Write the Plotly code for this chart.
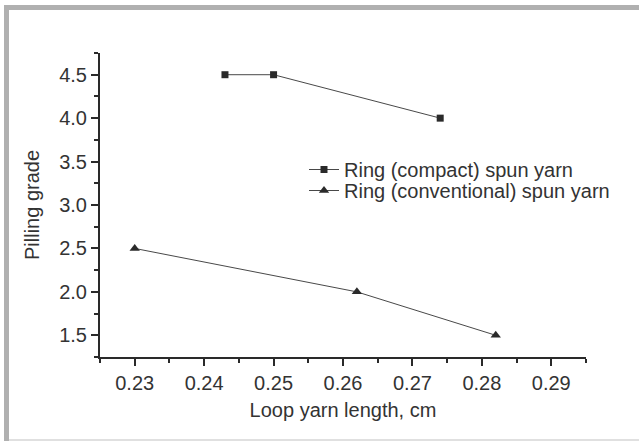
import plotly.graph_objects as go

# Data
compact_x = [0.243, 0.250, 0.274]
compact_y = [4.5, 4.5, 4.0]
conv_x = [0.230, 0.262, 0.282]
conv_y = [2.5, 2.0, 1.5]
x_ticks = [0.23, 0.24, 0.25, 0.26, 0.27, 0.28, 0.29]
y_ticks = [1.5, 2.0, 2.5, 3.0, 3.5, 4.0, 4.5]

W, H = 639, 441
L, R, T, B = 100, 53, 53, 84
PW, PH = W - L - R, H - T - B

def px2x(px):
    return (px - L) / PW

def py2y(py):
    return (H - B - py) / PH

FONT = "Liberation Sans, Arial, sans-serif"
TXT = "#333333"

fig = go.Figure()
fig.add_trace(go.Scatter(
    x=compact_x, y=compact_y, mode="lines+markers",
    name="Ring (compact) spun yarn",
    line=dict(color="#333333", width=0.9),
    marker=dict(symbol="square", size=7, color="#2a2a2a"),
    legend="legend",
))
fig.add_trace(go.Scatter(
    x=conv_x, y=conv_y, mode="lines+markers",
    name="Ring (conventional) spun yarn",
    line=dict(color="#333333", width=0.9),
    marker=dict(symbol="triangle-up", size=9, color="#2a2a2a"),
    legend="legend2",
))

axis_common = dict(
    showline=True, linecolor="#2a2a2a", linewidth=2,
    ticks="outside", ticklen=7, tickwidth=2, tickcolor="#2a2a2a",
    showgrid=False, zeroline=False, mirror=False,
    tickfont=dict(family=FONT, size=20, color=TXT),
)

fig.update_xaxes(
    range=[0.225, 0.295], tickvals=x_ticks,
    ticktext=[f"{v:.2f}" for v in x_ticks],
    minor=dict(dtick=0.005, tick0=0.225, ticks="outside", ticklen=4,
               tickwidth=2, tickcolor="#2a2a2a"),
    title=dict(text="Loop yarn length, cm", standoff=10,
               font=dict(family=FONT, size=20, color=TXT)),
    **axis_common,
)
fig.update_yaxes(
    range=[1.25, 4.75], tickvals=y_ticks,
    ticktext=[f"{v:.1f}" for v in y_ticks],
    minor=dict(dtick=0.25, tick0=1.25, ticks="outside", ticklen=4,
               tickwidth=2, tickcolor="#2a2a2a"),
    title=dict(text="Pilling grade", standoff=14,
               font=dict(family=FONT, size=20, color=TXT)),
    **axis_common,
)

legend_common = dict(
    xanchor="left", yanchor="middle", bgcolor="rgba(0,0,0,0)",
    borderwidth=0, font=dict(family=FONT, size=20, color=TXT),
)
fig.update_layout(
    width=W, height=H,
    margin=dict(l=L, r=R, t=T, b=B, autoexpand=False),
    paper_bgcolor="white", plot_bgcolor="white",
    showlegend=True,
    legend=dict(x=px2x(304), y=py2y(169.5), **legend_common),
    legend2=dict(x=px2x(304), y=py2y(190.5), **legend_common),
    shapes=[
        dict(type="rect", xref="paper", yref="paper",
             x0=px2x(4), x1=px2x(639), y0=py2y(5), y1=py2y(10),
             fillcolor="#b0b0b0", line=dict(width=0), layer="below"),
        dict(type="rect", xref="paper", yref="paper",
             x0=px2x(4), x1=px2x(9), y0=py2y(5), y1=py2y(441),
             fillcolor="#b0b0b0", line=dict(width=0), layer="below"),
        dict(type="line", xref="paper", yref="paper",
             x0=px2x(9), x1=px2x(639), y0=py2y(440), y1=py2y(440),
             line=dict(color="#d6d6d6", width=1.5), layer="below"),
    ],
)

fig.write_html(
    "out.html",
    config={"displayModeBar": False},
    post_script="document.body.style.margin='0';document.body.style.overflow='hidden';",
)
